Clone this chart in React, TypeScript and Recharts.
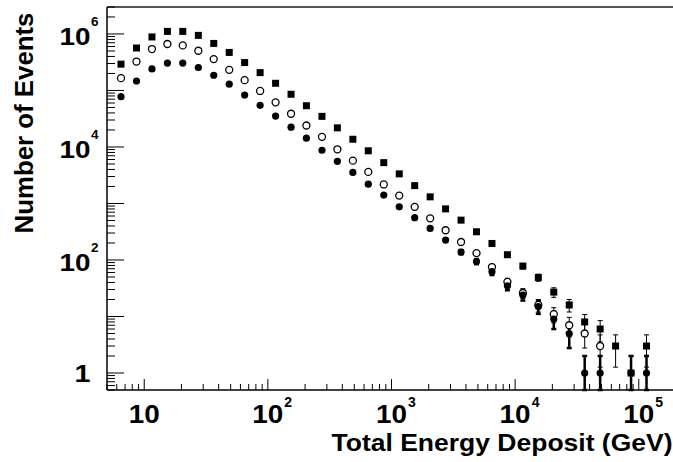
import React from 'react';
import { ScatterChart, Scatter, XAxis, YAxis, ErrorBar, ReferenceLine } from 'recharts';

// bin centres (GeV), 8 log bins per decade
const ENERGY_GEV = [
  6.49, 8.66, 11.55, 15.4, 20.5, 27.4, 36.5, 48.7, 64.9, 86.6, 115.5, 154, 205, 274, 365,
  487, 649, 866, 1155, 1540, 2054, 2738, 3652, 4870, 6494, 8660, 11548, 15399, 20535, 27384,
  36517, 48697, 64938, 86596, 115478,
];

// filled squares
const SQUARE_EVENTS = [
  292000, 564000, 885000, 1110000, 1110000, 944000, 680000, 471000, 312000, 207000, 134000,
  85600, 53700, 34800, 21800, 13700, 8560, 5280, 3340, 2070, 1310, 802, 507, 316, 196, 124,
  78, 49, 27, 16, 8, 6, 3, 1, 3,
];

// open circles
const OPEN_EVENTS = [
  165000, 325000, 541000, 664000, 627000, 505000, 359000, 232000, 152000, 98000, 61700, 38700,
  24000, 15100, 9100, 5730, 3620, 2170, 1380, 871, 546, 336, 208, 132, 75, 41, 26, 16, 11, 7,
  5, 3, null, null, null,
];

// filled circles
const FILLED_EVENTS = [
  77600, 147000, 241000, 305000, 305000, 255000, 186000, 129000, 83200, 54500, 35200, 22400,
  14300, 8740, 5570, 3550, 2200, 1410, 871, 561, 362, 225, 138, 94, 62, 35, 24, 15, 9, 5, 1, 1,
  null, 1, 1,
];

const X_DOMAIN = [5, 2e5];
const Y_DOMAIN = [0.5, 3e6];
const X_DECADES = [1, 10, 100, 1e3, 1e4, 1e5];
const Y_DECADES = [0.1, 1, 10, 100, 1e3, 1e4, 1e5, 1e6];
const X_LABELS = [10, 100, 1e3, 1e4, 1e5];
const Y_LABELS = [1, 100, 1e4, 1e6];

const FONT = '"Liberation Sans", Arial, Helvetica, sans-serif';

const logTicks = (decades: number[], [lo, hi]: number[]) =>
  decades
    .flatMap((d) => [1, 2, 3, 4, 5, 6, 7, 8, 9].map((m) => m * d))
    .filter((v) => v >= lo * 0.999 && v <= hi * 1.001);

const X_TICKS = logTicks(X_DECADES, X_DOMAIN);
const Y_TICKS = logTicks(Y_DECADES, Y_DOMAIN);

const isIn = (list: number[], v: number) => list.some((l) => Math.abs(l - v) / l < 1e-6);
const expOf = (v: number) => Math.round(Math.log10(v));
const isDecade = (v: number) => Math.abs(Math.log10(v) - expOf(v)) < 1e-6;

const withErrors = (values: (number | null)[]) =>
  values
    .map((n, i) =>
      n == null
        ? null
        : {
            x: ENERGY_GEV[i],
            y: n,
            err: [n - Math.max(n - Math.sqrt(n), Y_DOMAIN[0]), Math.sqrt(n)],
          },
    )
    .filter((d) => d !== null);

const squares = withErrors(SQUARE_EVENTS);
const opens = withErrors(OPEN_EVENTS);
const filled = withErrors(FILLED_EVENTS);

function XTick(props: any) {
  const { x, y, payload } = props;
  const v = payload.value;
  const major = isDecade(v);
  const e = expOf(v);
  return (
    <g>
      <line x1={x} x2={x} y1={y} y2={y - (major ? 11 : 6)} stroke="#000" strokeWidth={1} />
      {isIn(X_LABELS, v) && (
        <g fontFamily={FONT} fontWeight="bold" fill="#000">
          <text x={x} y={y + 33} fontSize={25} textAnchor="middle" textLength={31} lengthAdjust="spacingAndGlyphs">
            10
          </text>
          {e > 1 && (
            <text x={x + 16.5} y={y + 16.5} fontSize={14}>
              {e}
            </text>
          )}
        </g>
      )}
    </g>
  );
}

function YTick(props: any) {
  const { x, y, payload } = props;
  const v = payload.value;
  const major = isDecade(v);
  const e = expOf(v);
  return (
    <g>
      <line x1={x} x2={x + (major ? 17 : 8)} y1={y} y2={y} stroke="#000" strokeWidth={1} />
      {isIn(Y_LABELS, v) && (
        <g fontFamily={FONT} fontWeight="bold" fill="#000">
          {e === 0 ? (
            <text x={x - 16.5} y={y + 9} fontSize={24} textAnchor="end" textLength={16} lengthAdjust="spacingAndGlyphs">
              1
            </text>
          ) : (
            <>
              <text x={x - 16.5} y={y + 11.5} fontSize={23} textAnchor="end" textLength={31} lengthAdjust="spacingAndGlyphs">
                10
              </text>
              <text x={x - 16} y={y - 7.5} fontSize={13.5}>
                {e}
              </text>
            </>
          )}
        </g>
      )}
    </g>
  );
}

function XTitle(props: any) {
  const vb = props.viewBox || { x: 107, y: 390, width: 569, height: 72 };
  return (
    <text
      x={vb.x + vb.width - 344.5}
      y={vb.y + 60.5}
      fontFamily={FONT}
      fontWeight="bold"
      fontSize={23}
      textLength={341}
      lengthAdjust="spacingAndGlyphs"
      fill="#000"
    >
      Total Energy Deposit (GeV)
    </text>
  );
}

function YTitle(props: any) {
  const vb = props.viewBox || { x: 0, y: 7, width: 107, height: 383 };
  const x = vb.x + 32.5;
  const y = vb.y + 226.5;
  return (
    <text
      x={x}
      y={y}
      transform={`rotate(-90 ${x} ${y})`}
      fontFamily={FONT}
      fontWeight="bold"
      fontSize={26}
      textLength={221}
      lengthAdjust="spacingAndGlyphs"
      fill="#000"
    >
      Number of Events
    </text>
  );
}

const SquareMark = (p: any) => <rect x={p.cx - 3.5} y={p.cy - 3.5} width={7} height={7} fill="#000" />;
const OpenMark = (p: any) => <circle cx={p.cx} cy={p.cy} r={3.5} fill="#fff" stroke="#000" strokeWidth={1.3} />;
const DotMark = (p: any) => <circle cx={p.cx} cy={p.cy} r={3.6} fill="#000" />;

export default function App() {
  return (
    <div
      style={{
        position: 'absolute',
        left: 0,
        top: 0,
        width: 673,
        height: 462,
        overflow: 'hidden',
        background: '#fff',
      }}
    >
      <ScatterChart width={700} height={462} margin={{ top: 7, right: 24, bottom: 0, left: 0 }}>
        <XAxis
          type="number"
          dataKey="x"
          scale="log"
          domain={X_DOMAIN}
          allowDataOverflow
          ticks={X_TICKS}
          interval={0}
          tick={(p: any) => <XTick {...p} />}
          tickSize={0}
          tickMargin={0}
          tickLine={false}
          axisLine={{ stroke: '#000', strokeWidth: 1.5 }}
          height={72}
          label={(p: any) => <XTitle {...p} />}
        />
        <YAxis
          type="number"
          dataKey="y"
          scale="log"
          domain={Y_DOMAIN}
          allowDataOverflow
          ticks={Y_TICKS}
          interval={0}
          tick={(p: any) => <YTick {...p} />}
          tickSize={0}
          tickMargin={0}
          tickLine={false}
          axisLine={{ stroke: '#000', strokeWidth: 1.5 }}
          width={107}
          label={(p: any) => <YTitle {...p} />}
        />
        <ReferenceLine y={Y_DOMAIN[1]} stroke="#555" strokeWidth={2} />
        <ReferenceLine x={X_DOMAIN[1]} stroke="#555" strokeWidth={2} />
        <Scatter data={squares} shape={SquareMark} isAnimationActive={false}>
          <ErrorBar dataKey="err" direction="y" width={2.5} stroke="#000" strokeWidth={1} isAnimationActive={false} />
        </Scatter>
        <Scatter data={opens} shape={OpenMark} isAnimationActive={false}>
          <ErrorBar dataKey="err" direction="y" width={2.5} stroke="#000" strokeWidth={1} isAnimationActive={false} />
        </Scatter>
        <Scatter data={filled} shape={DotMark} isAnimationActive={false}>
          <ErrorBar dataKey="err" direction="y" width={2.5} stroke="#000" strokeWidth={2.5} isAnimationActive={false} />
        </Scatter>
      </ScatterChart>
    </div>
  );
}
